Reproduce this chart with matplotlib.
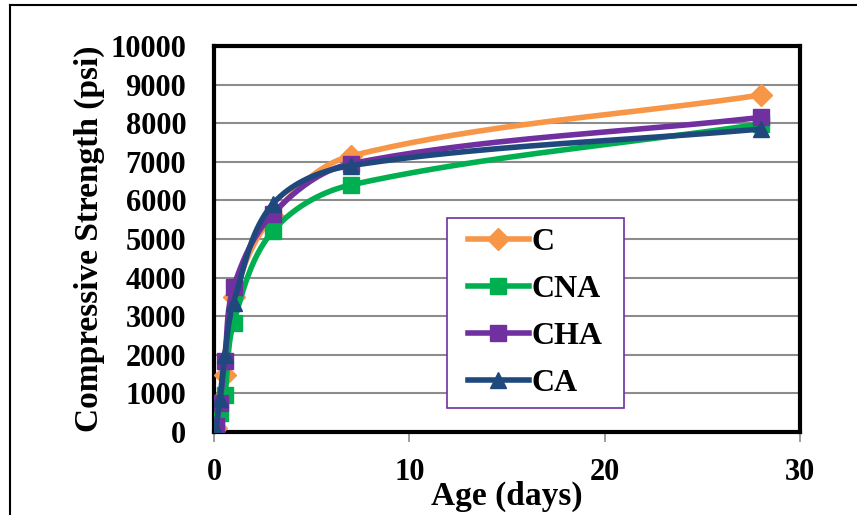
import numpy as np
import matplotlib.pyplot as plt
from matplotlib.lines import Line2D
from matplotlib.patches import Rectangle

plt.rcParams['font.family'] = ['Liberation Serif', 'DejaVu Serif']
plt.rcParams['font.weight'] = 'bold'

age = [0.1, 0.3, 0.55, 1, 3, 7, 28]
c_vals = [100, 800, 1480, 3500, 5600, 7150, 8730]
cna_vals = [150, 500, 950, 2830, 5200, 6400, 7980]
cha_vals = [150, 750, 1850, 3750, 5650, 6950, 8150]
ca_vals = [50, 850, 2000, 3350, 5900, 6900, 7850]

names = ['C', 'CNA', 'CHA', 'CA']
colors = ['#f79646', '#00b050', '#7030a0', '#1f497d']
markers = ['D', 's', 's', '^']
msizes = [11, 12, 12, 12]


def smooth(x, y, n=40):
    # smoothed line through the points, bezier segments built in pixel space
    sx, sy = 586 / 30.0, 386 / 10000.0
    P = np.column_stack([np.asarray(x, float) * sx, np.asarray(y, float) * sy])
    dirs = np.zeros_like(P)
    for i in range(len(P)):
        a = P[max(i - 1, 0)]
        b = P[min(i + 1, len(P) - 1)]
        v = b - a
        dirs[i] = v / np.linalg.norm(v)
    out = []
    t = np.linspace(0, 1, n)[:, None]
    for i in range(len(P) - 1):
        L = np.linalg.norm(P[i + 1] - P[i])
        c1 = P[i] + dirs[i] * L / 3
        c2 = P[i + 1] - dirs[i + 1] * L / 3
        seg = (1 - t) ** 3 * P[i] + 3 * (1 - t) ** 2 * t * c1 + 3 * (1 - t) * t ** 2 * c2 + t ** 3 * P[i + 1]
        out.append(seg)
    out = np.vstack(out)
    return out[:, 0] / sx, out[:, 1] / sy


fig = plt.figure(figsize=(8.57, 5.15), dpi=100)
ax = fig.add_axes([214 / 857, 1 - 432 / 515, 586 / 857, 386 / 515])

series = [c_vals, cna_vals, cha_vals, ca_vals]
for k, (vals, name, col, mk, ms) in enumerate(zip(series, names, colors, markers, msizes)):
    lx, ly = smooth(age, vals)
    ax.plot(lx, ly, color=col, lw=4, solid_capstyle='round', zorder=3 + k * 0.1)
    ax.plot(age, vals, linestyle='none', marker=mk, color=col, markersize=ms,
            zorder=3.05 + k * 0.1)

ax.set_xlim(0, 30)
ax.set_ylim(0, 10000)
ax.set_xticks([0, 10, 20, 30])
ax.set_yticks(range(0, 10001, 1000))
ax.yaxis.grid(True, color='#8c8c8c', lw=1.5)
ax.set_axisbelow(True)
for s in ax.spines.values():
    s.set_linewidth(3)
    s.set_color('black')
ax.tick_params(axis='both', labelsize=22, colors='#8c8c8c', labelcolor='black', width=1.2)
ax.tick_params(axis='y', length=0, pad=20)
ax.tick_params(axis='x', length=7, pad=12)
for lab in ax.get_xticklabels() + ax.get_yticklabels():
    lab.set_fontweight('bold')

ax.set_xlabel('Age (days)', fontsize=24, fontweight='bold', labelpad=-5)
ax.set_ylabel('Compressive Strength (psi)', fontsize=24, fontweight='bold', labelpad=4)

# legend box
box = Rectangle((447 / 857, 1 - 408 / 515), 177 / 857, 190 / 515, transform=fig.transFigure,
                facecolor='white', edgecolor='#7030a0', lw=1.2, zorder=5)
fig.add_artist(box)
handles = [Line2D([0], [0], color=col, lw=4, marker=mk, markersize=ms)
           for col, mk, ms in zip(colors, markers, msizes)]
leg = fig.legend(handles, names, loc='center', bbox_to_anchor=(535.5 / 857, 1 - 313 / 515),
                 frameon=False, prop={'size': 23, 'weight': 'bold'}, labelspacing=0.55,
                 handlelength=1.9, handletextpad=0.1, borderpad=0)
leg.set_zorder(6)

fig.add_artist(Line2D([10 / 857, 10 / 857], [0, 1 - 5 / 515], color='black', lw=1.5,
                      transform=fig.transFigure))
fig.add_artist(Line2D([10 / 857, 1], [1 - 5 / 515, 1 - 5 / 515], color='black', lw=1.5,
                      transform=fig.transFigure))

fig.savefig('out.png', dpi=100)
